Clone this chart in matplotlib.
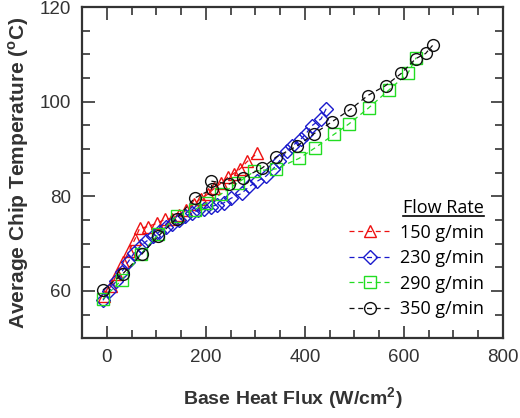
import matplotlib
matplotlib.use('Agg')
import matplotlib.pyplot as plt
from matplotlib.lines import Line2D
from matplotlib.ticker import MultipleLocator

plt.rcParams['font.family'] = ['Liberation Sans', 'DejaVu Sans']
plt.rcParams['mathtext.fontset'] = 'custom'
plt.rcParams['mathtext.rm'] = 'Liberation Sans'
plt.rcParams['mathtext.bf'] = 'Liberation Sans:bold'

# 150 g/min
x150 = [-5, 8, 20, 33, 45, 57, 66, 83, 101, 117, 131, 145, 160, 175, 190, 205, 217, 231, 244, 256, 268, 284, 304]
y150 = [59.0, 61.0, 63.5, 66.0, 68.5, 71.0, 73.2, 73.6, 74.3, 75.1, 75.3, 76.0, 77.0, 78.3, 79.5, 80.5, 81.7, 82.8, 84.0, 84.8, 85.7, 87.4, 89.1]
# 230 g/min
x230 = [-8, 5, 18, 30, 42, 55, 68, 80, 93, 106, 119, 132, 145, 158, 171, 184, 197, 210, 223, 236,
        251, 272, 288, 304, 322, 336, 348, 364, 374, 392, 402, 414, 433, 443]
y230 = [58.0, 60.0, 62.0, 64.0, 66.0, 68.0, 69.5, 70.5, 71.5, 72.5, 73.5, 74.2, 75.0, 75.8, 76.4, 77.0, 77.4, 77.8, 78.2, 78.6,
        79.6, 80.6, 82.1, 83.2, 84.3, 85.8, 87.4, 89.6, 90.6, 92.1, 93.2, 94.9, 96.4, 98.5]
# 290 g/min
x290 = [-8, 30, 68, 104, 141, 177, 201, 231, 264, 298, 342, 388, 420, 459, 489, 529, 569, 608, 625]
y290 = [58.3, 62.3, 67.7, 72.0, 75.8, 77.2, 78.5, 80.5, 82.8, 85.3, 85.8, 88.0, 90.2, 93.1, 95.3, 98.7, 102.4, 106.0, 109.3]
# 350 g/min
x350 = [-8, 32, 70, 103, 141, 177, 212, 211, 247, 274, 314, 342, 384, 418, 454, 491, 527, 563, 595, 624, 644, 658]
y350 = [60.2, 63.6, 67.7, 71.5, 75.3, 79.6, 81.5, 83.2, 82.6, 83.8, 86.0, 88.3, 90.6, 93.2, 95.7, 98.3, 101.3, 103.4, 106.0, 109.1, 110.2, 111.9]

series = [
    (x150, y150, '150 g/min', '#ee1111', '^'),
    (x230, y230, '230 g/min', '#1a1acc', 'D'),
    (x290, y290, '290 g/min', '#22dd22', 's'),
    (x350, y350, '350 g/min', '#111111', 'o'),
]

fig = plt.figure(figsize=(5.2, 4.18), dpi=100)
ax = fig.add_axes([0.158, 0.191, 0.809, 0.792])

for x, y, lab, c, m in series:
    ms = 7 if m == 'D' else 8.5
    ax.plot(x, y, ls=(0, (4, 3)), lw=0.9, color=c, marker=m, ms=ms,
            mfc='none', mec=c, mew=1.0, label=lab)

ax.set_xlim(-50, 800)
ax.set_ylim(50, 120)
ax.xaxis.set_major_locator(MultipleLocator(200))
ax.xaxis.set_minor_locator(MultipleLocator(50))
ax.yaxis.set_major_locator(MultipleLocator(20))
ax.yaxis.set_minor_locator(MultipleLocator(5))
ax.tick_params(which='both', direction='in', top=True, right=True,
               color='#333333', width=1.2, labelcolor='#333333', labelsize=13.5)
ax.tick_params(which='major', length=9, pad=8)
ax.tick_params(which='minor', length=5.5)
for s in ax.spines.values():
    s.set_linewidth(1.6)
    s.set_color('#333333')

ax.set_xlabel(r'Base Heat Flux (W/cm$^\mathbf{2}$)', fontsize=14, fontweight='bold',
              color='#333333', labelpad=14)
ax.set_ylabel(r'Average Chip Temperature ($^\mathbf{o}$C)', fontsize=15, fontweight='bold',
              color='#333333', labelpad=6)

leg = ax.legend(loc='lower right', bbox_to_anchor=(0.955, 0.06), frameon=False,
                prop={'family': 'Open Sans', 'size': 13}, title='Flow Rate',
                title_fontproperties={'family': 'Open Sans', 'size': 13},
                handlelength=2.3, handletextpad=0.5, labelspacing=0.42,
                borderaxespad=0, borderpad=0)
leg._legend_box.align = 'right'
leg._legend_box.sep = 5

# underline legend title
fig.canvas.draw()
bb = leg.get_title().get_window_extent()
fig.add_artist(Line2D([bb.x0, bb.x1], [bb.y0 + 1, bb.y0 + 1], transform=None,
                      color='black', lw=1.2))

fig.savefig('out.png', dpi=100)
